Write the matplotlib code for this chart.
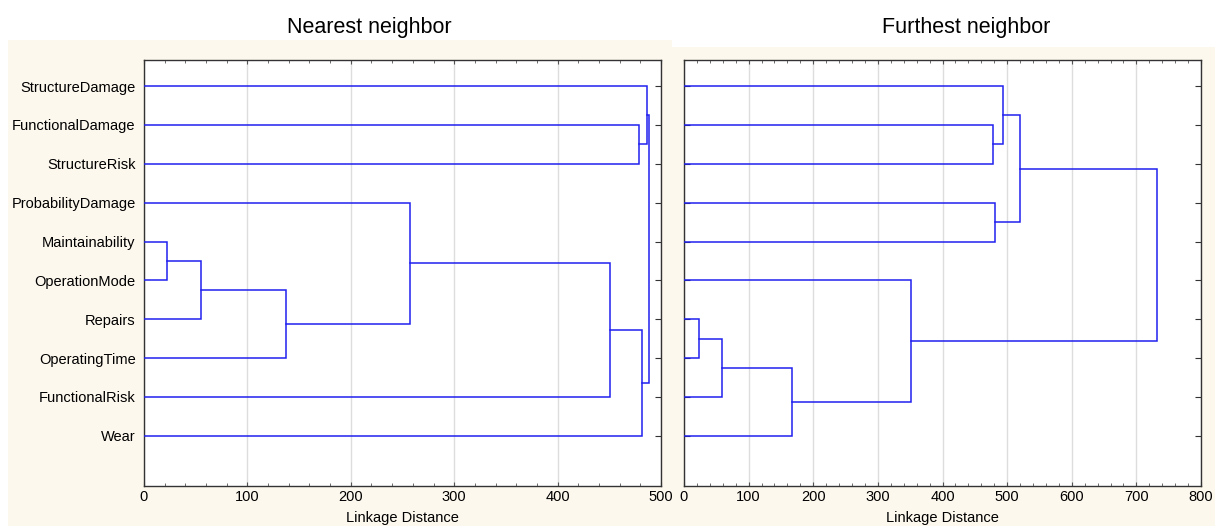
import matplotlib
matplotlib.use("Agg")
import matplotlib.pyplot as plt
from matplotlib.patches import Rectangle
from matplotlib.ticker import MultipleLocator

plt.rcParams['font.family'] = ['Liberation Sans', 'DejaVu Sans']

# ---- data ----
labels = ["StructureDamage", "FunctionalDamage", "StructureRisk", "ProbabilityDamage",
          "Maintainability", "OperationMode", "Repairs", "OperatingTime",
          "FunctionalRisk", "Wear"]

# merges: (cluster a, cluster b, linkage distance); new cluster ids start at 10
nearest_a = [4, 10, 11, 3, 13, 1, 14, 0, 17]
nearest_b = [5, 6, 7, 12, 8, 2, 9, 15, 16]
nearest_d = [22, 55, 137, 257, 451, 478.7, 481.3, 486.6, 488.5]

furthest_a = [6, 10, 11, 1, 3, 0, 5, 15, 17]
furthest_b = [7, 8, 9, 2, 4, 13, 12, 14, 16]
furthest_d = [23.2, 58.3, 167, 478.7, 481.8, 494, 351, 519.4, 731.4]

xticks_nearest = [0, 100, 200, 300, 400, 500]
xticks_furthest = [0, 100, 200, 300, 400, 500, 600, 700, 800]

W, H = 1215, 526
fig = plt.figure(figsize=(W / 100, H / 100), dpi=100)
fig.patch.set_facecolor("white")

beige = "#FDF8EE"
fig.add_artist(Rectangle((8 / W, 0), (672 - 8) / W, (H - 40) / H, transform=fig.transFigure,
                         facecolor=beige, edgecolor="none", zorder=0))
fig.add_artist(Rectangle((672 / W, 0), (W - 672) / W, (H - 47) / H, transform=fig.transFigure,
                         facecolor=beige, edgecolor="none", zorder=0))


def ax_rect(x0, x1, y0, y1):
    return [x0 / W, 1 - y1 / H, (x1 - x0) / W, (y1 - y0) / H]


def draw_dendro(ax, a_list, b_list, d_list, n):
    pos = {i: float(i) for i in range(n)}
    hgt = {i: 0.0 for i in range(n)}
    for k, (a, b, d) in enumerate(zip(a_list, b_list, d_list)):
        ya, yb = pos[a], pos[b]
        ax.plot([hgt[a], d, d, hgt[b]], [ya, ya, yb, yb], color="#2020F0",
                lw=1.1, solid_joinstyle="miter", zorder=3)
        cid = n + k
        pos[cid] = (ya + yb) / 2
        hgt[cid] = d


def style(ax, xmax, ticks):
    ax.set_xlim(0, xmax)
    ax.set_ylim(10.29, -0.67)
    ax.set_xticks(ticks)
    ax.xaxis.set_minor_locator(MultipleLocator(20))
    ax.grid(axis="x", which="major", color="#DDDDDD", lw=1, zorder=0)
    ax.tick_params(axis="x", which="both", direction="in", top=True, bottom=True,
                   labelsize=10.5, pad=3)
    ax.tick_params(axis="x", which="major", length=3, width=0.8, color="#555555")
    ax.tick_params(axis="x", which="minor", length=2, width=0.6, color="#555555")
    for s in ax.spines.values():
        s.set_color("#333333")
        s.set_linewidth(1.0)


n = len(labels)
ax1 = fig.add_axes(ax_rect(144, 661, 60, 486))
draw_dendro(ax1, nearest_a, nearest_b, nearest_d, n)
style(ax1, 500, xticks_nearest)
ax1.set_yticks(range(n))
ax1.set_yticklabels(labels, fontsize=10.5)
ax1.tick_params(axis="y", direction="in", left=False, right=True, labelleft=True,
                length=4, width=0.8, color="#333333", pad=6)

ax2 = fig.add_axes(ax_rect(684, 1201, 60, 486))
draw_dendro(ax2, furthest_a, furthest_b, furthest_d, n)
style(ax2, 800, xticks_furthest)
ax2.set_yticks(range(n))
ax2.tick_params(axis="y", direction="in", left=True, right=True, labelleft=False,
                length=4, width=0.8, color="#333333")

fig.text(402 / W, 1 - 518 / H, "Linkage Distance", ha="center", va="center", fontsize=10.5)
fig.text(942 / W, 1 - 518 / H, "Linkage Distance", ha="center", va="center", fontsize=10.5)

fig.text(369 / W, 1 - 27 / H, "Nearest neighbor", ha="center", va="center", fontsize=15.5)
fig.text(966 / W, 1 - 27 / H, "Furthest neighbor", ha="center", va="center", fontsize=15.5)

fig.savefig("out.png", dpi=100)
